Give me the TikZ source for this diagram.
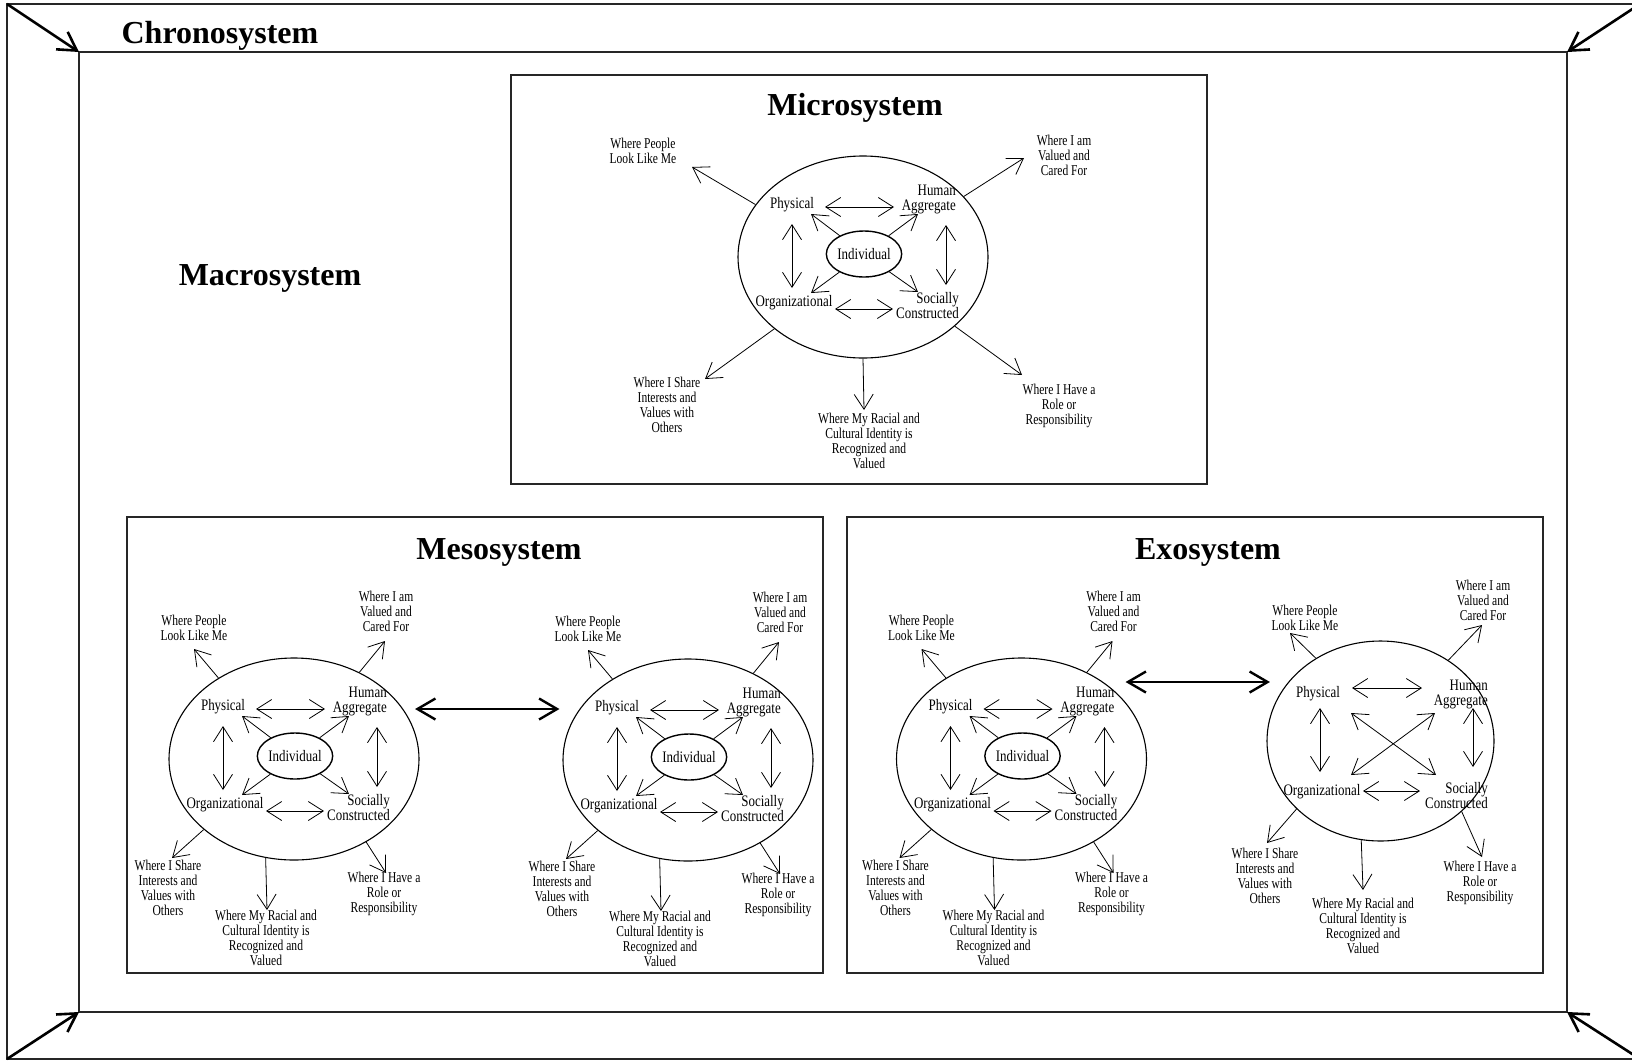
\documentclass[tikz,border=0pt]{standalone}
\usepackage{fontspec}
\setmainfont{Liberation Serif}
\newfontfamily\lblfont[FakeStretch=0.77]{Liberation Serif}
\newfontfamily\corefont[FakeStretch=0.81]{Liberation Serif}
\usetikzlibrary{arrows.meta,shapes.geometric}

\tikzset{
  frame/.style={draw=black!85, line width=1.6pt, inner sep=0pt, outer sep=0pt},
  panel/.style={draw=black!85, line width=1.4pt, inner sep=0pt, outer sep=0pt, anchor=north west},
  title/.style={font=\fontsize{32}{36}\selectfont\bfseries, inner sep=0pt, anchor=base},
  barb/.tip={Straight Barb[length=15pt,width=19pt]},
  bigbarb/.tip={Straight Barb[length=18pt,width=21pt]},
  thin arrow/.style={line width=0.8pt, -barb},
  thin both/.style={line width=0.8pt, barb-barb},
  link arrow/.style={line width=2.4pt, bigbarb-bigbarb},
  corner arrow/.style={line width=2.6pt, -bigbarb},
  ring/.style={draw, ellipse, line width=1.1pt, inner sep=0pt, minimum width=250pt, minimum height=202pt},
  self/.style={draw, ellipse, line width=1.4pt, inner sep=0pt, minimum width=74pt, minimum height=46pt,
    font=\corefont\fontsize{16}{15}\selectfont},
  core/.style={font=\corefont\fontsize{16}{15}\selectfont, inner sep=0pt},
  outer/.style={font=\lblfont\fontsize{15}{15}\selectfont, inner sep=0pt, align=center},
}

% double-headed arrow between two named free ends
\newcommand\pairlink[3]{%
  \coordinate (#1-a) at (#2);
  \coordinate (#1-b) at (#3);
  \draw[thin both] (#1-a) -- (#1-b);}
% arrow from the individual to one of the four environments
\newcommand\selflink[2]{%
  \coordinate (#1-tip) at (#2);
  \draw[thin arrow] (ind) -- (#1-tip);}
% arrow leaving the ring towards an outer label
\newcommand\outerlink[5]{%
  \coordinate (#1-tip) at (#3);
  \draw[thin arrow] (ring.#2) -- (#1-tip);
  \node[outer] (#1-lbl) at (#4) {#5};}

% ring, individual and the four environments with their links
\newcommand\drawClusterCore{%
  \node[ring] (ring) at (0,0) {};
  \node[self] (ind) at (1,-3) {Individual};
  \node[core] (phy) at (-71,-52) {Physical};
  \node[core, align=right, anchor=east] (hum) at (93,-58) {Human\\Aggregate};
  \node[core] (org) at (-69,46) {Organizational};
  \node[core, align=right, anchor=east] (soc) at (96,49) {Socially\\Constructed};
  \pairlink{ph}{-38,-50}{31,-50}
  \pairlink{os}{-28,52}{30,52}
  \pairlink{po}{-71,-33}{-71,31}
  \pairlink{hs}{83,-32}{83,28}
  \selflink{ip}{-52,-43}
  \selflink{ih}{55,-43}
  \selflink{io}{-52,36}
  \selflink{is}{55,35}}

% outer labels of the compact cluster
\newcommand\drawCompactOuter{%
  \outerlink{pe}{133.6}{-100,-110}{-100,-131}{Where People\\Look Like Me}
  \outerlink{va}{53.2}{91,-118}{92,-148}{Where I am\\Valued and\\Cared For}
  \outerlink{sh}{218}{-122,99}{-126,129}{Where I Share\\Interests and\\Values with\\Others}
  \outerlink{ra}{254.7}{-27,151}{-28,178.5}{Where My Racial and\\Cultural Identity is\\Recognized and\\Valued}
  \outerlink{ro}{311.4}{92,114}{90,135}{Where I Have a\\Role or\\Responsibility}}

\begin{document}
\begin{tikzpicture}[x=1pt,y=-1pt]
\useasboundingbox (0,0) rectangle (1632,1061);

% chronosystem and macrosystem frames
\node[frame, minimum width=1633pt, minimum height=1055pt, anchor=north west] (chrono) at (7,4) {};
\node[frame, minimum width=1488pt, minimum height=960pt, anchor=north west] (macro) at (79,52) {};
\draw[corner arrow] (chrono.north west) -- (macro.north west);
\draw[corner arrow] (chrono.north east) -- (macro.north east);
\draw[corner arrow] (chrono.south west) -- (macro.south west);
\draw[corner arrow] (chrono.south east) -- (macro.south east);

\node[title] (chronoT) at (220,43) {Chronosystem};
\node[title] (macroT) at (270,285) {Macrosystem};

% system panels
\node[panel, minimum width=696pt, minimum height=409pt] (microBox) at (511,75) {};
\node[panel, minimum width=696pt, minimum height=456pt] (mesoBox) at (127,517) {};
\node[panel, minimum width=696pt, minimum height=456pt] (exoBox) at (847,517) {};

\node[title] (microT) at (855,115) {Microsystem};
\node[title] (mesoT) at (499,559) {Mesosystem};
\node[title] (exoT) at (1208,559) {Exosystem};

% microsystem
\begin{scope}[shift={(863,257)}, name prefix=mi-]
  \drawClusterCore
  \outerlink{pe}{154.9}{-171,-90}{-220,-106.5}{Where People\\Look Like Me}
  \outerlink{va}{31.0}{161,-99}{201,-102}{Where I am\\Valued and\\Cared For}
  \outerlink{sh}{219.4}{-158,122}{-196,148}{Where I Share\\Interests and\\Values with\\Others}
  \outerlink{ra}{270}{1,153}{6,183.5}{Where My Racial and\\Cultural Identity is\\Recognized and\\Valued}
  \outerlink{ro}{323.3}{159,118}{196,149}{Where I Have a\\Role or\\Responsibility}
\end{scope}

% mesosystem: two linked microsystems
\begin{scope}[shift={(294,759)}, name prefix=mA-]
  \drawClusterCore
  \drawCompactOuter
\end{scope}
\begin{scope}[shift={(688,760)}, name prefix=mB-]
  \drawClusterCore
  \drawCompactOuter
\end{scope}
\draw[link arrow] ([xshift=-4.5pt,yshift=50pt]mA-ring.east) -- ([xshift=-3pt,yshift=51pt]mB-ring.west);

% exosystem: a microsystem linked to a setting without the individual
\begin{scope}[shift={(1021.5,759)}, name prefix=eA-]
  \drawClusterCore
  \drawCompactOuter
\end{scope}
\begin{scope}[shift={(1382,745)}, name prefix=eB-]
  \node[ring, minimum width=227pt, minimum height=200pt] (ring) at (-1.5,-4) {};
  \node[core] (phy) at (-64,-51) {Physical};
  \node[core, align=right, anchor=east] (hum) at (106,-51) {Human\\Aggregate};
  \node[core] (org) at (-60,47) {Organizational};
  \node[core, align=right, anchor=east] (soc) at (106,51) {Socially\\Constructed};
  \pairlink{ph}{-30,-57}{40,-57}
  \pairlink{os}{-19,46}{38,46}
  \pairlink{po}{-62,-37}{-62,27}
  \pairlink{hs}{91,-37}{91,22}
  \pairlink{ps}{-31,-32}{54,30}
  \pairlink{ho}{53,-32}{-31,30}
  \outerlink{pe}{128.6}{-92,-112}{-77,-127.5}{Where People\\Look Like Me}
  \outerlink{va}{50.9}{100,-120}{101,-145}{Where I am\\Valued and\\Cared For}
  \outerlink{sh}{219}{-115,98}{-117,131}{Where I Share\\Interests and\\Values with\\Others}
  \outerlink{ra}{259}{-19,145}{-19,180.5}{Where My Racial and\\Cultural Identity is\\Recognized and\\Valued}
  \outerlink{ro}{319.9}{100,112}{98,138}{Where I Have a\\Role or\\Responsibility}
\end{scope}
\draw[link arrow] ([xshift=-21.5pt,yshift=77pt]eA-ring.east) -- ([xshift=3.5pt,yshift=59pt]eB-ring.west);
\end{tikzpicture}
\end{document}
